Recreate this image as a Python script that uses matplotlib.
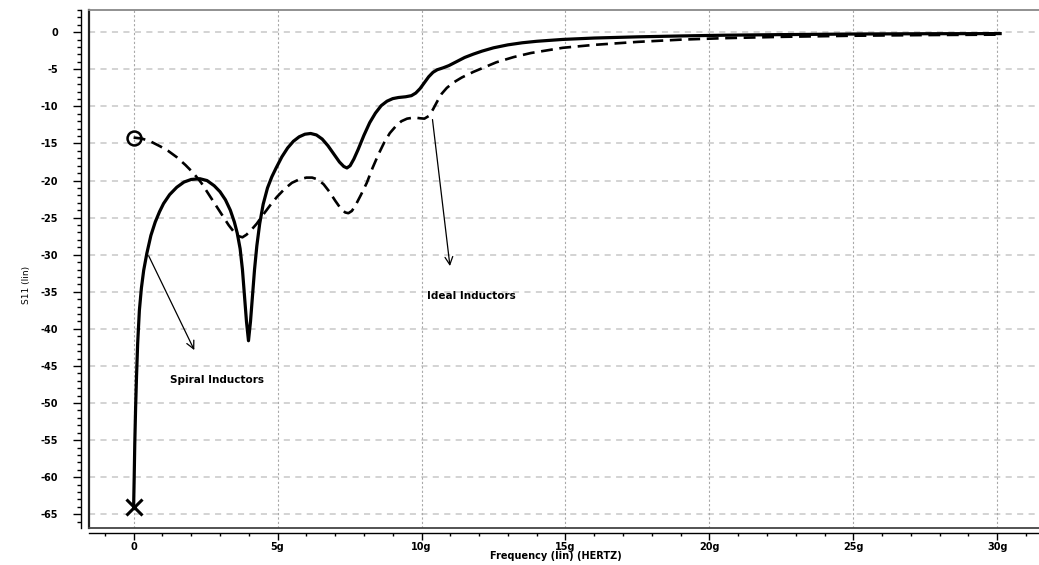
import matplotlib
matplotlib.use("Agg")
import matplotlib.pyplot as plt
from matplotlib.lines import Line2D

# (frequency in GHz, S11)
spiral_pts = [
    (0.0, -64.0), (0.02, -60.0), (0.04, -55.5), (0.07, -50.5), (0.1, -46.5), (0.14, -42.0),
    (0.2, -37.5), (0.27, -34.5), (0.35, -32.1), (0.46, -29.8), (0.6, -27.4), (0.75, -25.6),
    (0.9, -24.2), (1.04, -23.1), (1.25, -21.9), (1.5, -20.9), (1.75, -20.2), (2.0, -19.85),
    (2.3, -19.75), (2.55, -20.0), (2.8, -20.7), (3.0, -21.5), (3.19, -22.6), (3.36, -24.0),
    (3.5, -25.6), (3.6, -27.1), (3.7, -29.2), (3.78, -32.0), (3.85, -35.5), (3.92, -39.0),
    (3.99, -41.6), (4.06, -39.0), (4.13, -35.5), (4.2, -32.0), (4.28, -28.8), (4.38, -25.8),
    (4.5, -23.2), (4.65, -21.0), (4.8, -19.5), (4.95, -18.3), (5.15, -16.8), (5.35, -15.6),
    (5.55, -14.7), (5.75, -14.1), (5.95, -13.75), (6.15, -13.65), (6.35, -13.85),
    (6.55, -14.4), (6.75, -15.3), (6.95, -16.4), (7.15, -17.5), (7.3, -18.1), (7.41, -18.3),
    (7.52, -18.0), (7.65, -17.1), (7.8, -15.8), (8.0, -13.9), (8.2, -12.2), (8.4, -10.9),
    (8.6, -9.9), (8.8, -9.3), (9.0, -8.95), (9.2, -8.8), (9.45, -8.7), (9.65, -8.55),
    (9.8, -8.2), (9.95, -7.6), (10.1, -6.8), (10.25, -6.0), (10.4, -5.4), (10.55, -5.05),
    (10.75, -4.8), (10.95, -4.5), (11.2, -4.0), (11.5, -3.4), (11.8, -2.95), (12.1, -2.55),
    (12.5, -2.1), (13.0, -1.7), (13.5, -1.42), (14.0, -1.22), (14.9, -0.97), (16.0, -0.78),
    (17.5, -0.62), (19.0, -0.5), (20.5, -0.4), (22.5, -0.32), (25.0, -0.24), (27.5, -0.2),
    (30.1, -0.18),
]
ideal_pts = [
    (0.0, -14.2), (0.3, -14.35), (0.6, -14.75), (0.93, -15.4), (1.2, -16.0), (1.5, -16.85),
    (1.8, -17.9), (2.08, -19.0), (2.35, -20.3), (2.6, -21.8), (2.85, -23.3), (3.1, -24.8),
    (3.3, -26.0), (3.5, -27.0), (3.65, -27.5), (3.78, -27.65), (3.92, -27.3), (4.1, -26.6),
    (4.28, -25.8), (4.5, -24.6), (4.75, -23.3), (4.98, -22.2), (5.25, -21.1), (5.5, -20.3),
    (5.75, -19.85), (6.0, -19.6), (6.2, -19.6), (6.4, -19.85), (6.6, -20.5), (6.8, -21.5),
    (7.0, -22.7), (7.2, -23.8), (7.35, -24.3), (7.46, -24.4), (7.58, -24.1), (7.7, -23.4),
    (7.9, -21.9), (8.1, -20.3), (8.3, -18.3), (8.5, -16.5), (8.7, -14.9), (8.9, -13.6),
    (9.1, -12.7), (9.3, -12.0), (9.5, -11.65), (9.75, -11.5), (9.95, -11.6), (10.1, -11.65),
    (10.25, -11.3), (10.4, -10.4), (10.55, -9.3), (10.7, -8.3), (10.88, -7.5), (11.1, -6.8),
    (11.4, -6.1), (11.8, -5.35), (12.2, -4.7), (12.6, -4.05), (13.2, -3.35), (13.8, -2.8),
    (14.9, -2.1), (16.0, -1.7), (17.5, -1.3), (19.0, -1.0), (20.5, -0.8), (22.5, -0.62),
    (25.0, -0.47), (27.5, -0.38), (30.1, -0.32),
]
spiral_f, spiral_s11 = zip(*spiral_pts)
ideal_f, ideal_s11 = zip(*ideal_pts)

x_ticks = [0, 5, 10, 15, 20, 25, 30]
x_tick_labels = ["0", "5g", "10g", "15g", "20g", "25g", "30g"]
y_ticks = [0, -5, -10, -15, -20, -25, -30, -35, -40, -45, -50, -55, -60, -65]

plt.rcParams['font.family'] = ['DejaVu Sans']
bold = dict(fontweight='bold')

fig = plt.figure(figsize=(10.39, 5.65), dpi=100)
ax = fig.add_axes([89 / 1039, 37 / 565, 950 / 1039, 518 / 565])

ax.plot(spiral_f, spiral_s11, color='black', lw=2.3, solid_joinstyle='round', zorder=3)
ax.plot(ideal_f, ideal_s11, color='black', lw=1.9, dashes=(4.5, 2.5), zorder=3)
ax.plot(spiral_f[0], spiral_s11[0], marker='x', ms=11, mew=2.2, color='black',
        zorder=4, clip_on=False)
ax.plot(ideal_f[0], ideal_s11[0], marker='o', ms=10, mew=1.8, mfc='none',
        color='black', zorder=4)

ax.set_xlim(-1.55, 31.45)
ax.set_ylim(-66.85, 3.0)

# grid
for yv in y_ticks:
    ax.axhline(yv, color='#c8c8c8', lw=1.1, dashes=(4, 3.5), zorder=1)
for xv in x_ticks:
    ax.axvline(xv, color='#a8a8a8', lw=0.8, dashes=(2, 2), zorder=1)

# axes lines offset from the frame
for s in ['right', 'top']:
    ax.spines[s].set_visible(False)
ax.spines['left'].set_position(('outward', 5.5))
ax.spines['bottom'].set_position(('outward', 3.6))
ax.spines['left'].set_linewidth(1.0)
ax.spines['bottom'].set_linewidth(1.0)

# inner frame
ax.add_line(Line2D([0, 0], [0, 1], transform=ax.transAxes, color='#222222', lw=1.6,
                   clip_on=False))
ax.add_line(Line2D([0, 1], [0, 0], transform=ax.transAxes, color='#444444', lw=1.3,
                   clip_on=False))
ax.add_line(Line2D([0, 1], [1, 1], transform=ax.transAxes, color='#888888', lw=1.3,
                   clip_on=False))

ax.set_xticks(x_ticks)
ax.set_xticklabels(x_tick_labels, fontsize=7, **bold)
ax.set_xticks(range(-1, 32), minor=True)
ax.set_yticks(y_ticks)
ax.set_yticklabels([str(v) for v in y_ticks], fontsize=7, **bold)
ax.set_yticks(range(-66, 4), minor=True)
ax.tick_params(axis='y', which='major', length=6, width=1, pad=11)
ax.tick_params(axis='y', which='minor', length=3, width=1)
ax.tick_params(axis='x', which='major', length=5, width=1, pad=1.5)
ax.tick_params(axis='x', which='minor', length=2.5, width=1)

ax.set_xlabel("Frequency (lin) (HERTZ)", fontsize=7, **bold)
ax.xaxis.set_label_coords(0.4916, -0.045)
ax.set_ylabel("S11 (lin)", fontsize=6.5)
ax.yaxis.set_label_coords(-0.061, 0.47)

# annotations
ax.annotate("", xy=(2.15, -43.2), xytext=(0.48, -29.8),
            arrowprops=dict(arrowstyle='->', color='black', lw=0.9, mutation_scale=14))
ax.text(1.28, -46.9, "Spiral Inductors", fontsize=7.5, va='center', **bold)
ax.annotate("", xy=(11.0, -31.9), xytext=(10.37, -11.4),
            arrowprops=dict(arrowstyle='->', color='black', lw=0.9, mutation_scale=14))
ax.text(10.2, -35.6, "Ideal Inductors", fontsize=7.5, va='center', **bold)

fig.savefig("out.png", dpi=100)
